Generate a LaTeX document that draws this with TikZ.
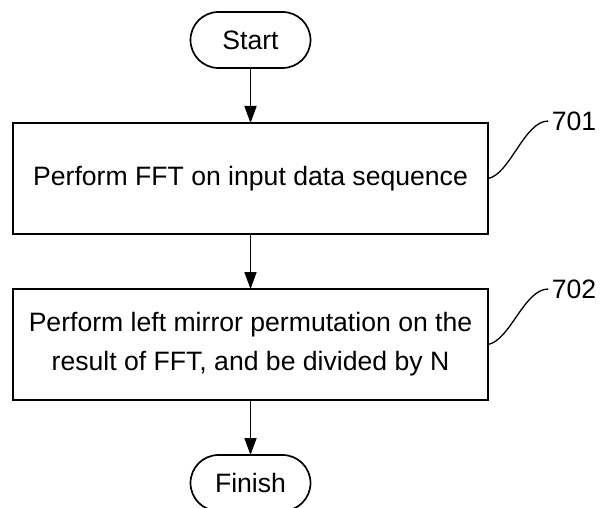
\documentclass[tikz,border=0pt]{standalone}
\usepackage{fontspec}
\setmainfont{Liberation Sans}
\usetikzlibrary{positioning,arrows.meta}
\tikzset{term node/.style={draw,line width=1.7pt,rounded corners=28pt,minimum width=120pt,minimum height=56pt,inner sep=0pt,outer sep=0pt},
         proc node/.style={draw,line width=1.7pt,minimum width=475pt,minimum height=111pt,align=center,inner sep=0pt,outer sep=0pt},
         flow/.style={draw,line width=1.7pt,-{Triangle[width=12pt,length=17pt]}},
         leader/.style={draw,line width=1.3pt},
            }

\begin{document}
\begin{tikzpicture}[x=1pt,y=1pt,font=\fontsize{26.6}{39}\selectfont,node distance=55pt]
    \useasboundingbox (0,0) rectangle (600,-508);

    \node[term node] (start) at (250.5,-40) {Start};
    \node[proc node] (fft) [below = of start] {Perform FFT on input data sequence};
    \node[proc node] (perm) [below = of fft] {Perform left mirror permutation on the\\result of FFT, and be divided by N};
    \node[term node] (finish) [below = of perm] {Finish};

    \path[flow]
    (start) edge (fft)
    (fft) edge (perm)
    (perm) edge (finish);

    \node (l701) at (574,-121) {701};
    \node (l702) at (574,-289) {702};

    \path[leader] (fft.east) .. controls +(22,4) and +(-24,0) .. (l701.west);
    \path[leader] (perm.east) .. controls +(22,4) and +(-24,0) .. (l702.west);
\end{tikzpicture}
\end{document}
